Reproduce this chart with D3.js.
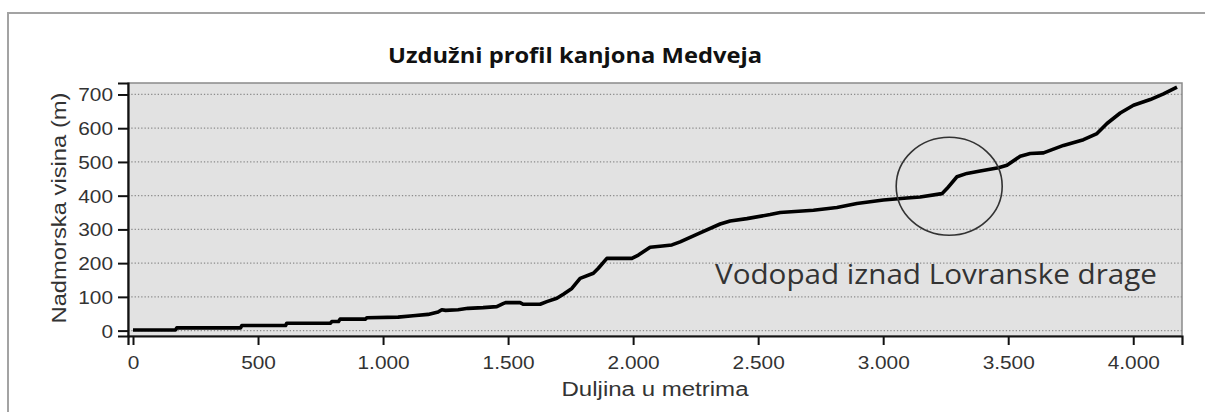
<!DOCTYPE html>
<html>
<head>
<meta charset="utf-8">
<script src="https://cdn.jsdelivr.net/npm/d3@7/dist/d3.min.js"></script>
<style>
  body { margin: 0; background: #fff; }
  svg { display: block; }
</style>
</head>
<body>
<div id="corpo"></div>
<script>
// profil: udaljenost (m) i nadmorska visina (m), ocitano sa slike
var duljina = [0, 170, 175, 430, 435, 610, 615, 790, 795, 822, 828, 930, 935, 1060, 1120, 1180, 1220, 1235, 1250, 1300, 1340, 1400, 1455, 1480, 1490, 1548, 1560, 1628, 1655, 1695, 1721, 1755, 1788, 1841, 1861, 1895, 1995, 2021, 2068, 2108, 2155, 2188, 2268, 2348, 2388, 2455, 2548, 2588, 2721, 2815, 2895, 3001, 3095, 3148, 3235, 3255, 3295, 3335, 3388, 3461, 3495, 3548, 3588, 3641, 3721, 3801, 3855, 3895, 3948, 4001, 4068, 4121, 4175];
var visina = [2, 2, 8, 8, 15, 15, 22, 22, 27, 27, 34, 34, 38, 40, 44, 48, 55, 62, 60, 62, 66, 68, 71, 80, 83, 83, 78, 78, 86, 96, 108, 125, 155, 170, 185, 214, 214, 224, 247, 250, 254, 263, 290, 316, 325, 332, 344, 350, 357, 365, 377, 387, 393, 396, 406, 421, 456, 466, 473, 483, 490, 517, 525, 527, 549, 566, 584, 614, 645, 668, 685, 702, 722];

var xTicks = [0, 500, 1000, 1500, 2000, 2500, 3000, 3500, 4000];
var yTicks = [0, 100, 200, 300, 400, 500, 600, 700];

var naslov = "Uzdužni profil kanjona Medveja";
var xNaslov = "Duljina u metrima";
var yNaslov = "Nadmorska visina (m)";
var biljeska = "Vodopad iznad Lovranske drage";
var vodopad = {x: 3264, y: 428};

var W = 1205, H = 412;
var margin = {top: 83, right: 23, bottom: 76, left: 128};
var width = W - margin.left - margin.right,
    height = H - margin.top - margin.bottom;

var svg = d3.select("#corpo").append("svg")
    .attr("width", W)
    .attr("height", H);

// okvir slike
svg.append("path")
    .attr("d", "M8," + H + "V13H" + W)
    .attr("fill", "none")
    .attr("stroke", "#a3a3a3")
    .attr("stroke-width", 2);

var g = svg.append("g")
    .attr("transform", "translate(" + margin.left + "," + margin.top + ")");

var x = d3.scaleLinear().domain([-20, 4195]).range([0, width]);
var y = d3.scaleLinear().domain([-16, 734]).range([height, 0]);

// pozadina
g.append("rect")
    .attr("width", width)
    .attr("height", height)
    .attr("fill", "#e2e2e2")
    .attr("stroke", "#8a8a8a")
    .attr("stroke-width", 1.5);

// mreza
g.selectAll(".grid")
    .data(yTicks)
    .enter().append("line")
    .attr("class", "grid")
    .attr("x1", 0)
    .attr("x2", width)
    .attr("y1", function(d) { return y(d); })
    .attr("y2", function(d) { return y(d); })
    .attr("stroke", "#8c8c8c")
    .attr("stroke-width", 1.3)
    .attr("stroke-dasharray", "1.3,2");

var tickFont = "'Liberation Sans', Arial, sans-serif";

function rastegni(sel, k) {
    sel.each(function() {
        var len = this.getComputedTextLength();
        d3.select(this).attr("textLength", len * k).attr("lengthAdjust", "spacingAndGlyphs");
    });
}

// X os
var xAxis = g.append("g")
    .attr("transform", "translate(0," + height + ")")
    .call(d3.axisBottom(x).tickValues(xTicks).tickSize(9).tickPadding(24)
        .tickFormat(function(d) { return d3.format(",")(d).replace(/,/g, "."); }));
xAxis.select(".domain").attr("stroke", "#111").attr("stroke-width", 2.2);
xAxis.selectAll(".tick line").attr("stroke", "#111").attr("stroke-width", 2);
xAxis.selectAll(".tick text")
    .attr("font-family", tickFont).attr("font-size", 17.5).attr("fill", "#333")
    .attr("dy", 0).attr("y", 33).call(rastegni, 1.19);

// Y os
var yAxis = g.append("g")
    .call(d3.axisLeft(y).tickValues(yTicks).tickSize(10).tickPadding(5));
yAxis.select(".domain").attr("stroke", "#111").attr("stroke-width", 2.2);
yAxis.selectAll(".tick line").attr("stroke", "#111").attr("stroke-width", 2);
yAxis.selectAll(".tick text")
    .attr("font-family", tickFont).attr("font-size", 17.5).attr("fill", "#333")
    .attr("dy", 0).attr("y", 6.5).attr("x", -15).call(rastegni, 1.19);

// linija profila
var linija = d3.line()
    .x(function(d, i) { return x(duljina[i]); })
    .y(function(d) { return y(d); });

g.append("path")
    .datum(visina)
    .attr("d", linija)
    .attr("fill", "none")
    .attr("stroke", "#000")
    .attr("stroke-width", 3.6)
    .attr("stroke-linejoin", "round");

// krug oko vodopada
g.append("ellipse")
    .attr("cx", x(vodopad.x))
    .attr("cy", y(vodopad.y))
    .attr("rx", 53)
    .attr("ry", 49)
    .attr("fill", "none")
    .attr("stroke", "#333")
    .attr("stroke-width", 1.6);

// biljeska
g.append("text")
    .attr("x", 715 - margin.left)
    .attr("y", 284 - margin.top)
    .attr("font-family", "'Open Sans', sans-serif")
    .attr("font-size", 27)
    .attr("fill", "#333")
    .attr("textLength", 442)
    .attr("lengthAdjust", "spacingAndGlyphs")
    .text(biljeska);

// naslov
svg.append("text")
    .attr("x", 575)
    .attr("y", 63)
    .attr("text-anchor", "middle")
    .attr("font-family", "'Open Sans', sans-serif")
    .attr("font-weight", "bold")
    .attr("font-size", 21)
    .attr("fill", "#111")
    .attr("textLength", 374)
    .attr("lengthAdjust", "spacingAndGlyphs")
    .text(naslov);

// naslovi osi
svg.append("text")
    .attr("x", margin.left + width / 2)
    .attr("y", 396)
    .attr("text-anchor", "middle")
    .attr("font-family", tickFont)
    .attr("font-size", 19.5)
    .attr("fill", "#333")
    .attr("textLength", 187)
    .attr("lengthAdjust", "spacingAndGlyphs")
    .text(xNaslov);

svg.append("text")
    .attr("transform", "translate(66,208) rotate(-90)")
    .attr("text-anchor", "middle")
    .attr("font-family", tickFont)
    .attr("font-size", 19.5)
    .attr("fill", "#333")
    .attr("textLength", 231)
    .attr("lengthAdjust", "spacingAndGlyphs")
    .text(yNaslov);
</script>
</body>
</html>
